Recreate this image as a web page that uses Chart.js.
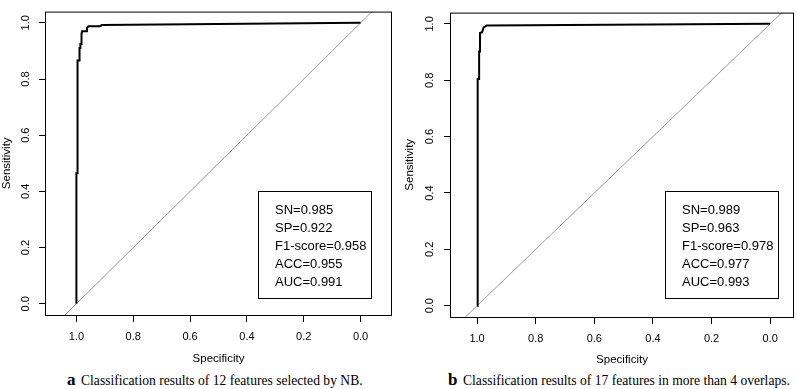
<!DOCTYPE html>
<html>
<head>
<meta charset="utf-8">
<script src="https://cdn.jsdelivr.net/npm/chart.js@4.4.0/dist/chart.umd.min.js"></script>
<style>
  body { margin: 0; background: #fff; width: 797px; height: 389px; position: relative; overflow: hidden; }
  canvas { position: absolute; top: 0; }
  #rocA { left: 0; }
  #rocB { left: 400px; }
  .cap { position: absolute; font-family: "Liberation Serif", "Times New Roman", serif; font-size: 13.6px; line-height: 1; white-space: nowrap; color: #000; }
  .tag { font-weight: bold; font-size: 17px; }
</style>
</head>
<body>
<canvas id="rocA" width="400" height="366"></canvas>
<canvas id="rocB" width="397" height="367"></canvas>
<span class="cap tag" style="left:67px; top:371px;">a</span>
<span class="cap" style="left:81px; top:374px;">Classification results of 12 features selected by NB.</span>
<span class="cap tag" style="left:448px; top:371px;">b</span>
<span class="cap" style="left:463px; top:374px;">Classification results of 17 features in more than 4 overlaps.</span>
<script>
// ROC curve of panel a (12 features, NB)
const specA = [1.000, 1.000, 0.996, 0.996, 0.989, 0.989, 0.986, 0.986, 0.983, 0.982, 0.980, 0.965, 0.963, 0.958, 0.917, 0.910, 0.000];
const sensA = [0.000, 0.465, 0.465, 0.866, 0.866, 0.910, 0.910, 0.925, 0.925, 0.960, 0.970, 0.970, 0.982, 0.988, 0.988, 0.992, 1.000];

// ROC curve of panel b (17 features, >4 overlaps)
const specB = [1.000, 1.000, 0.997, 0.997, 0.993, 0.993, 0.990, 0.990, 0.983, 0.978, 0.968, 0.966, 0.000];
const sensB = [0.000, 0.617, 0.617, 0.804, 0.804, 0.902, 0.902, 0.968, 0.970, 0.987, 0.994, 0.994, 1.000];

// chance line (sens + spec = 1), drawn past the frame and clipped
const chanceSpec = [1.3, -0.3];
const chanceSens = [-0.3, 1.3];

const axisTicks = [0, 0.2, 0.4, 0.6, 0.8, 1.0];

const metricsA = ['SN=0.985', 'SP=0.922', 'F1-score=0.958', 'ACC=0.955', 'AUC=0.991'];
const metricsB = ['SN=0.989', 'SP=0.963', 'F1-score=0.978', 'ACC=0.977', 'AUC=0.993'];

const sansFont = 'Liberation Sans, Arial, sans-serif';

const toPoints = (xs, ys) => xs.map((x, i) => ({x: x, y: ys[i]}));

// black frame round the plot region, like R's box()
const frameBox = {
  id: 'frameBox',
  afterDatasetsDraw(chart) {
    const {ctx, chartArea: a} = chart;
    ctx.save();
    ctx.strokeStyle = '#000';
    ctx.lineWidth = 1;
    ctx.strokeRect(a.left - 0.5, a.top + 0.5, a.right - a.left + 1, a.bottom - a.top);
    ctx.restore();
  }
};

// bottom-right box with the metrics text
const metricsBox = {
  id: 'metricsBox',
  afterDraw(chart, args, opts) {
    const {ctx, chartArea: a} = chart;
    const right = a.right - opts.insetX;
    const bottom = a.bottom - opts.insetY;
    const left = right - opts.width;
    const top = bottom - opts.height;
    ctx.save();
    ctx.fillStyle = '#fff';
    ctx.fillRect(left, top, opts.width, opts.height);
    ctx.strokeStyle = '#000';
    ctx.lineWidth = 1;
    ctx.strokeRect(Math.round(left) + 0.5, Math.round(top) + 0.5, opts.width, opts.height);
    ctx.fillStyle = '#000';
    ctx.font = '13px ' + sansFont;
    ctx.textBaseline = 'middle';
    ctx.textAlign = 'left';
    opts.lines.forEach((t, i) => {
      ctx.fillText(t, left + opts.padX, top + opts.firstLine + i * opts.lineGap);
    });
    ctx.restore();
  }
};

function makeRoc(canvasId, spec, sens, metrics, lay) {
  const ctx = document.getElementById(canvasId).getContext('2d');
  return new Chart(ctx, {
    type: 'scatter',
    data: {
      datasets: [{
        data: toPoints(spec, sens),
        showLine: true,
        borderColor: '#000',
        borderWidth: 2,
        pointRadius: 0,
        tension: 0
      }, {
        data: toPoints(chanceSpec, chanceSens),
        showLine: true,
        borderColor: '#9a9a9a',
        borderWidth: 1,
        pointRadius: 0
      }]
    },
    options: {
      responsive: false,
      animation: false,
      events: [],
      layout: {padding: {left: 0, top: lay.top, right: lay.right, bottom: 0}},
      scales: {
        x: {
          type: 'linear',
          reverse: true,
          min: lay.xMin,
          max: lay.xMax,
          afterBuildTicks: s => { s.ticks = axisTicks.map(v => ({value: v})); },
          afterFit: s => { s.height = lay.xHeight; },
          ticks: {
            callback: v => v.toFixed(1),
            color: '#000',
            font: {family: sansFont, size: 11},
            padding: 8,
            maxRotation: 0,
            autoSkip: false
          },
          grid: {drawOnChartArea: false, tickLength: 7, color: '#000'},
          border: {display: false},
          title: {display: true, text: 'Specificity', color: '#000', font: {family: sansFont, size: 11.5}, padding: 0}
        },
        y: {
          type: 'linear',
          min: -0.04,
          max: 1.04,
          afterBuildTicks: s => { s.ticks = axisTicks.map(v => ({value: v})); },
          afterFit: s => { s.width = lay.yWidth; },
          ticks: {
            callback: v => v.toFixed(1),
            color: '#000',
            font: {family: sansFont, size: 11},
            minRotation: 90,
            maxRotation: 90,
            crossAlign: 'center',
            padding: lay.yPad
          },
          grid: {drawOnChartArea: false, tickLength: 7, color: '#000'},
          border: {display: false},
          title: {display: true, text: 'Sensitivity', color: '#000', font: {family: sansFont, size: 11.5}, padding: {top: lay.yTitlePad, bottom: 0}}
        }
      },
      plugins: {
        legend: {display: false},
        tooltip: {enabled: false},
        metricsBox: {
          lines: metrics,
          insetX: lay.boxInsetX,
          insetY: lay.boxInsetY,
          width: 113,
          height: 107,
          padX: 17,
          firstLine: 19,
          lineGap: 18
        }
      }
    },
    plugins: [frameBox, metricsBox]
  });
}

makeRoc('rocA', specA, sensA, metricsA, {
  top: 1, right: 9, xMin: -0.107, xMax: 1.107, xHeight: 51, yWidth: 46, yPad: 5, yTitlePad: 0,
  boxInsetX: 20, boxInsetY: 17
});

makeRoc('rocB', specB, sensB, metricsB, {
  top: 3, right: 4, xMin: -0.078, xMax: 1.089, xHeight: 50, yWidth: 51, yPad: 6, yTitlePad: 3,
  boxInsetX: 15, boxInsetY: 19
});
</script>
</body>
</html>
